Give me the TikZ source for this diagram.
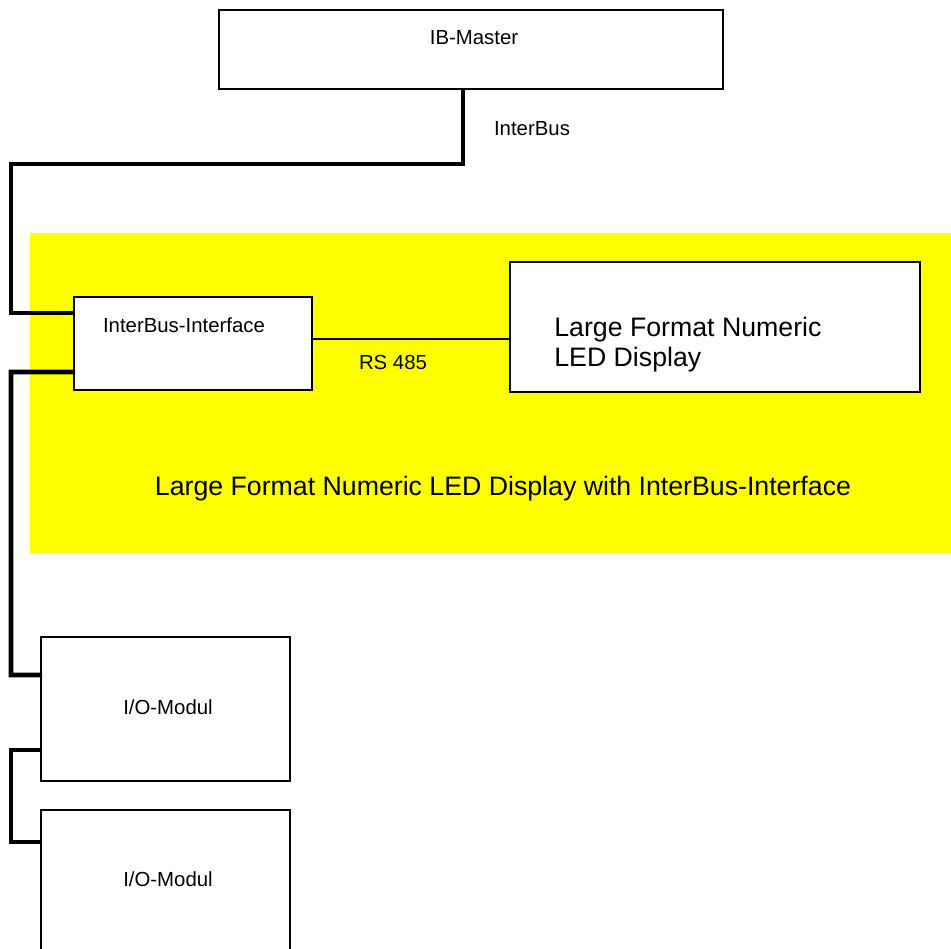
\documentclass[tikz,border=0pt]{standalone}
\usepackage{fontspec}
\setmainfont{Liberation Sans}
\definecolor{areayellow}{RGB}{255,255,0}
\begin{document}
\begin{tikzpicture}[x=0.02cm, y=-0.02cm,
		box/.style={draw, line width=1.3pt, fill=white, inner sep=0pt},
		bus/.style={line width=2.6pt, line cap=rect},
		small/.style={font=\fontsize{11.6}{14}\selectfont, inner sep=0pt},
		large/.style={font=\fontsize{15.2}{17}\selectfont, inner sep=0pt}]
		\useasboundingbox (0,0) rectangle (951,949);
		\fill[areayellow] (30,233) rectangle (951,553);
		
		\node[box, minimum width=10.08cm, minimum height=1.58cm] (ibmaster) at (471,49.5) {};
		\node[box, minimum width=4.76cm, minimum height=1.86cm] (iface) at (193,343.5) {};
		\node[box, minimum width=8.2cm, minimum height=2.6cm] (display) at (715,327) {};
		\node[box, minimum width=4.98cm, minimum height=2.88cm] (io1) at (165.5,709) {};
		\node[box, minimum width=4.98cm, minimum height=2.88cm] (io2) at (165.5,882) {};
		
		\node[small, anchor=base] (ibtext) at (474,45) {IB-Master};
		\node[small, anchor=base] (bustext) at (532,136) {InterBus};
		\node[small, anchor=base] (ifacetext) at (184,333) {InterBus-Interface};
		\node[small, anchor=base] (rstext) at (393,370) {RS 485};
		\node[large, anchor=north west, align=left] (displaytext) at (554,317) {Large Format Numeric\\LED Display};
		\node[large, anchor=base] (areatext) at (503,496) {Large Format Numeric LED Display with InterBus-Interface};
		\node[small, anchor=base] (iotext1) at (168,715) {I/O-Modul};
		\node[small, anchor=base] (iotext2) at (168,887) {I/O-Modul};
		
		% bus lines
		\draw[bus] ([xshift=-0.16cm]ibmaster.south) |- (11,164) |- ([yshift=0.61cm]iface.west);
		\draw[bus] ([yshift=-0.57cm]iface.west) -| (11,675) -- ([yshift=0.68cm]io1.west);
		\draw[bus] ([yshift=-0.82cm]io1.west) -| (11,796) |- ([yshift=0.8cm]io2.west);
		
		% RS 485
		\coordinate (rs) at ([yshift=0.09cm]iface.east);
		\draw[line width=1.1pt] (rs) -- (rs -| display.west);
	\end{tikzpicture}
\end{document}
